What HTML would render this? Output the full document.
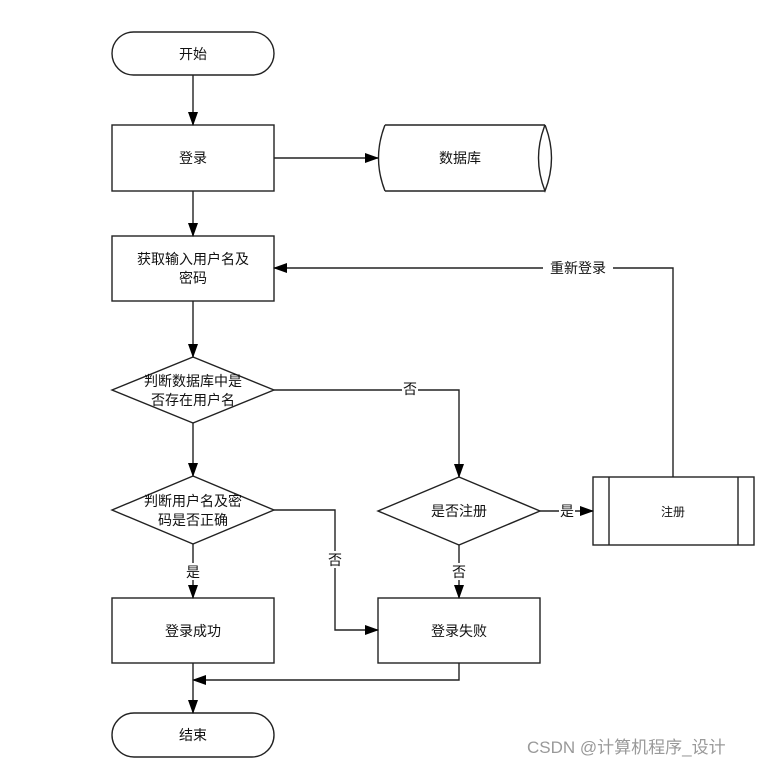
<!DOCTYPE html>
<html><head><meta charset="utf-8"><style>
body{margin:0;background:#fff}
text{font-family:"Liberation Sans","Noto Sans CJK SC",sans-serif;font-size:14px;fill:#111}
</style></head><body>
<svg width="764" height="765" xmlns="http://www.w3.org/2000/svg">
<defs><marker id="a" markerWidth="14" markerHeight="10" refX="13" refY="5" orient="auto" markerUnits="userSpaceOnUse"><path d="M0,0 L14,5 L0,10 Z" fill="#000"/></marker></defs>
<g stroke="#222" stroke-width="1.4" fill="#fff">
<rect x="112" y="32" width="162" height="43" rx="21.5"/>
<rect x="112" y="125" width="162" height="66"/>
<path d="M385,125 H545 M385,191 H545 M385,125 Q372,158 385,191 M545,125 Q532,158 545,191 Q558,158 545,125"/>
<rect x="112" y="236" width="162" height="65"/>
<polygon points="112,390 193,357 274,390 193,423"/>
<polygon points="112,510 193,476 274,510 193,544"/>
<rect x="112" y="598" width="162" height="65"/>
<rect x="112" y="713" width="162" height="44" rx="22"/>
<polygon points="378,511 459,477 540,511 459,545"/>
<rect x="378" y="598" width="162" height="65"/>
<rect x="593" y="477" width="161" height="68"/>
<path d="M609,477 V545 M738,477 V545"/>
</g>
<g stroke="#222" stroke-width="1.4" fill="none" marker-end="url(#a)">
<path d="M193,75 V125"/>
<path d="M274,158 H378"/>
<path d="M193,191 V236"/>
<path d="M193,301 V357"/>
<path d="M193,423 V476"/>
<path d="M274,390 H459 V477"/>
<path d="M193,544 V598"/>
<path d="M274,510 H335 V630 H378"/>
<path d="M459,545 V598"/>
<path d="M540,511 H593"/>
<path d="M673,477 V268 H274"/>
<path d="M459,663 V680 H193"/>
<path d="M193,663 V713"/>
</g>
<g fill="#fff"><rect x="543" y="259" width="70" height="18"/><rect x="402" y="380" width="16" height="17"/><rect x="327" y="551" width="16" height="17"/><rect x="185" y="563" width="16" height="17"/><rect x="451" y="563" width="16" height="17"/><rect x="559" y="502" width="16" height="17"/></g>
<g text-anchor="middle">
<text x="193" y="59">开始</text>
<text x="193" y="163">登录</text>
<text x="460" y="163">数据库</text>
<text x="193" y="264">获取输入用户名及</text>
<text x="193" y="283">密码</text>
<text x="193" y="386">判断数据库中是</text>
<text x="193" y="405">否存在用户名</text>
<text x="193" y="506">判断用户名及密</text>
<text x="193" y="525">码是否正确</text>
<text x="193" y="636">登录成功</text>
<text x="193" y="740">结束</text>
<text x="459" y="516">是否注册</text>
<text x="459" y="636">登录失败</text>
<text x="673" y="516" style="font-size:12px">注册</text>
<text x="578" y="273">重新登录</text>
<text x="410" y="394">否</text>
<text x="335" y="565">否</text>
<text x="193" y="577">是</text>
<text x="459" y="577">否</text>
<text x="567" y="516">是</text>
</g>
<text x="527" y="753" style="font-size:17px;fill:#999">CSDN @计算机程序_设计</text>
</svg>
</body></html>
